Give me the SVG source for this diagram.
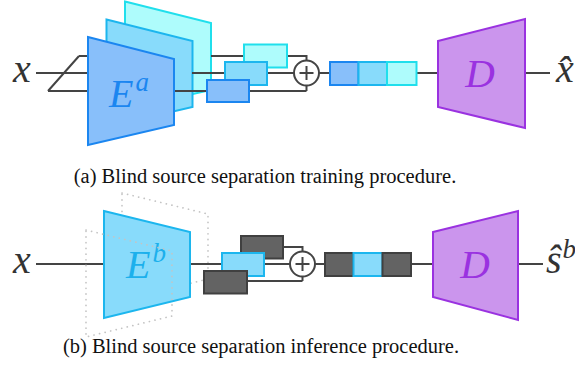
<svg xmlns="http://www.w3.org/2000/svg" width="575" height="381" viewBox="0 0 575 381">
<style>
.ln{fill:none;stroke:#444;stroke-width:2;stroke-linejoin:miter}
.l1{fill:#88bffa;stroke:#1b86f0;stroke-width:2}
.l2{fill:#88dbfb;stroke:#1cb6ee;stroke-width:2}
.l3{fill:#aefcfc;stroke:#20dfec;stroke-width:2}
.dk{fill:#636363;stroke:#404040;stroke-width:2}
.dec{fill:#cb95ed;stroke:#9a32e0;stroke-width:2}
.dot{fill:none;stroke:#c4c4c4;stroke-width:1.7;stroke-dasharray:0.1 5.6;stroke-linecap:round}
.sum{fill:#fff;stroke:#444;stroke-width:2}
</style>

<g id="enc-a-layer3"><polygon class="l3" points="125,1.5 211,23 211,90 125,109"/></g>
<g id="enc-a-layer2"><polygon class="l2" points="106.5,19.5 192.5,41 192.5,107 106.5,127"/></g>
<g id="enc-b-back"><polygon class="dot" points="122,193 208,214 208,279 122,300"/></g>

<g id="connectors">
  <path class="ln" d="M36,73 H88 M79,56 H88 M48,91 H88 M48,91 L79,56"/>
  <path class="ln" d="M211,56 H306.5 V91 M192,73 H294 M174,91 H306.5"/>
  <path class="ln" d="M319,73 H330 M417,73 H438 M525,73 H550"/>
  <path class="ln" d="M36,264 H104 M190,264 H290"/>
  <path class="ln" d="M262,247 H302.5 V281 M230,281 H302.5"/>
  <path class="ln" d="M315,264 H325 M411,264 H433 M518,264 H543"/>
</g>

<g id="enc-a"><polygon class="l1" points="88,37 174,59 174,125 88,145"/></g>
<text style="font-family:'Liberation Serif',serif;font-style:italic" x="109" y="107" font-size="40" fill="#1b86f0">E<tspan font-size="27" dy="-16" dx="2">a</tspan></text>
<g id="feat-a3"><rect class="l3" x="244" y="44.5" width="43" height="23"/></g>
<g id="feat-a2"><rect class="l2" x="225" y="62" width="42" height="23"/></g>
<g id="feat-a1"><rect class="l1" x="207" y="80" width="42" height="22"/></g>
<g id="sum-a"><circle class="sum" cx="306.5" cy="73" r="12.5"/><path class="ln" d="M299.5,73 H313.5 M306.5,66 V80"/></g>
<g id="latent-a">
  <rect class="l1" x="330" y="62" width="28.5" height="23"/>
  <rect class="l2" x="358.5" y="62" width="28.5" height="23"/>
  <rect class="l3" x="387" y="62" width="29.5" height="23"/>
</g>
<g id="dec-a"><polygon class="dec" points="438,41 525,19 525,128 438,107"/></g>
<text style="font-family:'Liberation Serif',serif;font-style:italic" x="480" y="87" font-size="41" fill="#9a32e0" text-anchor="middle">D</text>
<text style="font-family:'Liberation Serif',serif;font-style:italic" x="13" y="82" font-size="40" fill="#333">x</text>
<text style="font-family:'Liberation Serif',serif;font-style:italic" x="556" y="82" font-size="40" fill="#333">x&#x302;</text>
<text style="font-family:'Liberation Serif',serif" x="265" y="183" font-size="20.5" fill="#111" text-anchor="middle">(a) Blind source separation training procedure.</text>

<g id="enc-b"><polygon class="l2" points="104,211 190,232 190,297 104,318"/></g>
<text style="font-family:'Liberation Serif',serif;font-style:italic" x="126" y="278" font-size="40" fill="#1cb0ec">E<tspan font-size="27" dy="-16" dx="2">b</tspan></text>
<g id="enc-b-front"><polygon class="dot" points="86,230 172,251 172,316 86,337"/></g>
<g id="feat-b3"><rect class="dk" x="241" y="236" width="42" height="22.5"/></g>
<g id="feat-b2"><rect class="l2" x="222" y="253" width="42" height="23"/></g>
<g id="feat-b1"><rect class="dk" x="204" y="271" width="43" height="22.5"/></g>
<g id="sum-b"><circle class="sum" cx="302.5" cy="264" r="12.5"/><path class="ln" d="M295.5,264 H309.5 M302.5,257 V271"/></g>
<g id="latent-b">
  <rect class="dk" x="325" y="253" width="28.5" height="23"/>
  <rect class="l2" x="353.5" y="253" width="29" height="23"/>
  <rect class="dk" x="382.5" y="253" width="28.5" height="23"/>
</g>
<g id="dec-b"><polygon class="dec" points="433,232 518,211 518,320 433,297"/></g>
<text style="font-family:'Liberation Serif',serif;font-style:italic" x="475" y="278" font-size="41" fill="#9a32e0" text-anchor="middle">D</text>
<text style="font-family:'Liberation Serif',serif;font-style:italic" x="13" y="273" font-size="40" fill="#333">x</text>
<text style="font-family:'Liberation Serif',serif;font-style:italic" x="546" y="273" font-size="40" fill="#333">s&#x302;<tspan font-size="27" dy="-15" dx="1">b</tspan></text>
<text style="font-family:'Liberation Serif',serif" x="261" y="353" font-size="20.5" fill="#111" text-anchor="middle">(b) Blind source separation inference procedure.</text>
</svg>
